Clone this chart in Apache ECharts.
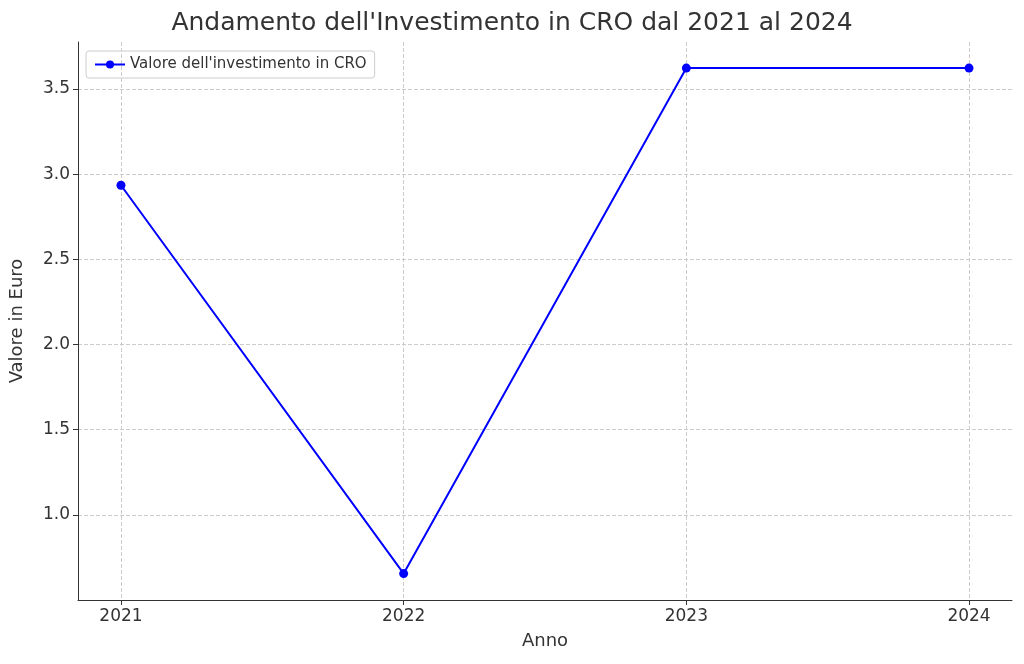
<!DOCTYPE html>
<html><head><meta charset="utf-8">
<script src="https://cdn.jsdelivr.net/npm/echarts@6/dist/echarts.min.js"></script>
<style>html,body{margin:0;padding:0;background:#fff}#c{width:1024px;height:664px}</style>
</head><body><div id="c"></div>
<script>
var years = [2021, 2022, 2023, 2024];
var values = [2.935, 0.655, 3.623, 3.623];
var yTicks = [1.0, 1.5, 2.0, 2.5, 3.0, 3.5];

var chart = echarts.init(document.getElementById('c'));
var font = 'DejaVu Sans';
chart.setOption({
  animation: false,
  textStyle: { fontFamily: font },
  title: { text: "Andamento dell'Investimento in CRO dal 2021 al 2024", left: 'center', top: 6,
    textStyle: { fontSize: 25, fontWeight: 'normal', color: '#333', fontFamily: font } },
  legend: { left: 86, top: 51, orient: 'vertical', padding: [6, 8], borderColor: '#ccc', borderWidth: 1, borderRadius: 3,
    itemWidth: 30, itemHeight: 10, textStyle: { fontSize: 15, color: '#333' },
    data: ["Valore dell'investimento in CRO"] },
  grid: { left: 77, right: 12, top: 42, bottom: 64 },
  xAxis: { type: 'value', min: 2020.848, max: 2024.152,
    name: 'Anno', nameLocation: 'middle', nameGap: 32, nameTextStyle: { fontSize: 18, color: '#333' },
    axisLine: { lineStyle: { color: '#333' } },
    axisTick: { show: true, customValues: years, lineStyle: { color: '#333' } },
    axisLabel: { customValues: years, fontSize: 17, color: '#333', formatter: function (v) { return String(v); } },
    splitLine: { show: true, lineStyle: { type: 'dashed', color: '#ccc' } } },
  yAxis: { type: 'value', min: 0.5, max: 3.776,
    name: 'Valore in Euro', nameLocation: 'middle', nameGap: 52, nameTextStyle: { fontSize: 18, color: '#333' },
    axisLine: { show: true, lineStyle: { color: '#333' } },
    axisTick: { show: true, customValues: yTicks, lineStyle: { color: '#333' } },
    axisLabel: { customValues: yTicks, fontSize: 17, color: '#333', formatter: function (v) { return v.toFixed(1); } },
    splitLine: { show: true, lineStyle: { type: 'dashed', color: '#ccc' } } },
  series: [{ name: "Valore dell'investimento in CRO", type: 'line',
    data: years.map(function (y, i) { return [y, values[i]]; }),
    color: '#0000ff', lineStyle: { width: 2 }, symbol: 'circle', symbolSize: 9 }]
});
</script></body></html>
